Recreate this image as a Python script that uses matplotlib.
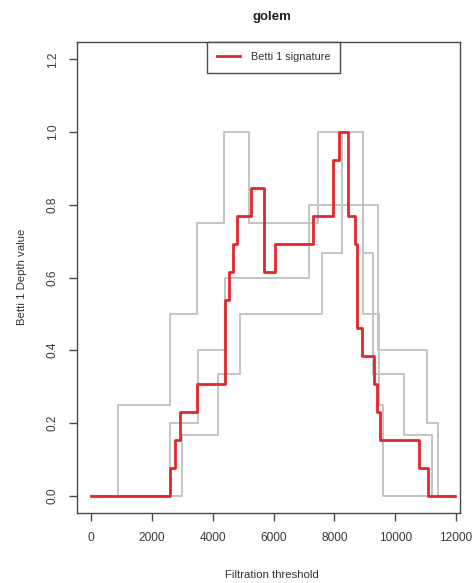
import matplotlib
matplotlib.use("Agg")
import matplotlib.pyplot as plt

plt.rcParams['font.family'] = ['Liberation Sans', 'DejaVu Sans']

# Betti 1 depth curves of the individual samples (step functions: breakpoints, levels)
curve_a_x = [0, 890, 2600, 3470, 4370, 5190, 7470, 8950, 9480, 9610, 11970]
curve_a_y = [0.0, 0.25, 0.5, 0.75, 1.0, 0.75, 1.0, 0.5, 0.25, 0.0, 0.0]

curve_b_x = [0, 2600, 3510, 4420, 7170, 9430, 11030, 11420, 11970]
curve_b_y = [0.0, 0.2, 0.4, 0.6, 0.8, 0.4, 0.2, 0.0, 0.0]

curve_c_x = [0, 2990, 4170, 4900, 7600, 8240, 8950, 9270, 10300, 11220, 11970]
curve_c_y = [0.0, 1/6, 1/3, 0.5, 2/3, 1.0, 2/3, 1/3, 1/6, 0.0, 0.0]

# Betti 1 signature (depth levels in thirteenths)
signature_x = [0, 2600, 2760, 2925, 3470, 4400, 4530, 4660, 4790, 5250, 5690,
               6050, 7310, 7950, 8160, 8460, 8680, 8760, 8920, 9310, 9390,
               9500, 10780, 11090, 11970]
signature_k = [0, 1, 2, 3, 4, 7, 8, 9, 10, 11, 8,
               9, 10, 12, 13, 10, 9, 6, 5, 4, 3,
               2, 1, 0, 0]
signature_y = [k / 13 for k in signature_k]

x_ticks = [0, 2000, 4000, 6000, 8000, 10000, 12000]
y_ticks = [0.0, 0.2, 0.4, 0.6, 0.8, 1.0, 1.2]

W, H = 473, 583
fig = plt.figure(figsize=(W / 100, H / 100), dpi=100)
ax = fig.add_axes([77 / W, 1 - 513 / H, (460 - 77) / W, (513 - 42) / H])

gray = '#c4c4c4'
for xs, ys in [(curve_a_x, curve_a_y), (curve_b_x, curve_b_y), (curve_c_x, curve_c_y)]:
    ax.step(xs, ys, where='post', color=gray, lw=1.4, zorder=2)

ax.step(signature_x, signature_y, where='post', color='#e3262b', lw=2.0,
        zorder=3, label='Betti 1 signature')

ax.set_xlim(-460, 12130)
ax.set_ylim(-0.048, 1.248)
ax.set_xticks(x_ticks)
ax.set_xticklabels([str(v) for v in x_ticks])
ax.set_yticks(y_ticks)
ax.set_yticklabels([f'{v:.1f}' for v in y_ticks], rotation=90, va='center')

for s in ax.spines.values():
    s.set_color('#4a4a4a')
    s.set_linewidth(1.0)
ax.tick_params(axis='both', direction='out', length=6, width=1.0,
               color='#4a4a4a', labelsize=8.6, labelcolor='#3a3a3a')
ax.tick_params(axis='x', pad=8)
ax.tick_params(axis='y', pad=7)

leg = ax.legend(loc='upper center', bbox_to_anchor=(0.513, 1.0), borderaxespad=0,
                fancybox=False, fontsize=7.8, handlelength=2.1, handletextpad=1.0,
                borderpad=0.95, framealpha=1)
leg.get_frame().set_edgecolor('#4a4a4a')
leg.get_frame().set_linewidth(1.0)
for t in leg.get_texts():
    t.set_color('#333333')

fig.text(272 / W, 1 - 17 / H, 'golem', ha='center', va='center',
         fontsize=9.5, fontweight='bold', color='#222222')
fig.text(272 / W, 1 - 575 / H, 'Filtration threshold', ha='center', va='center',
         fontsize=8.2, color='#333333')
fig.text(22 / W, 1 - 277 / H, 'Betti 1 Depth value', ha='center', va='center',
         rotation=90, fontsize=8.2, color='#333333')

fig.savefig('out.png', dpi=100)
